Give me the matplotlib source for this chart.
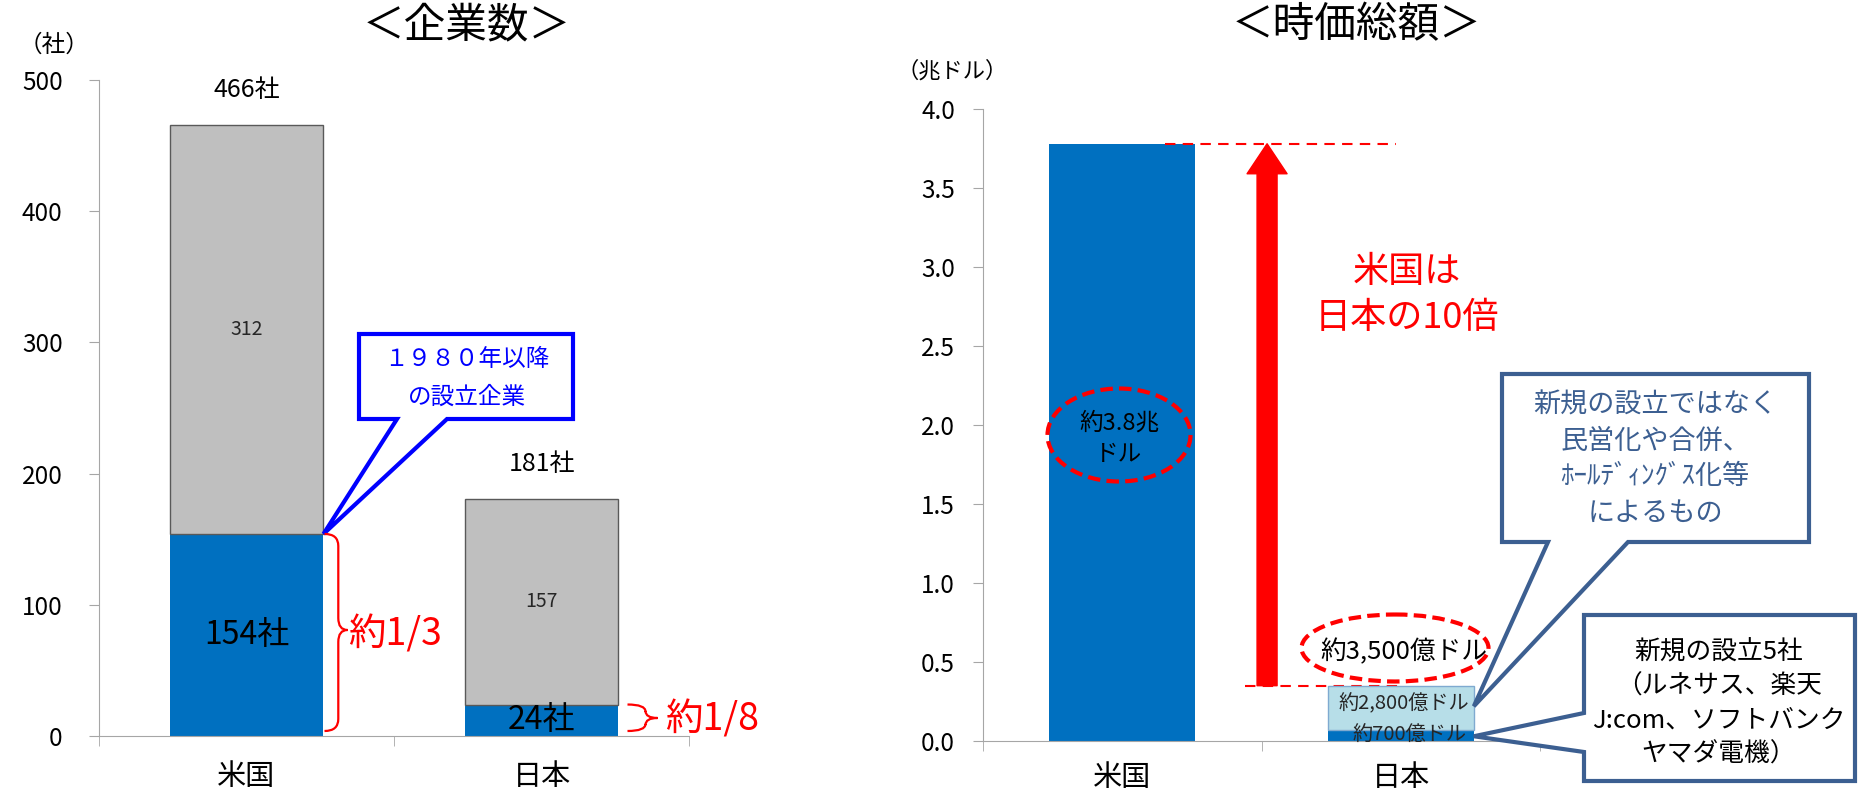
import matplotlib
matplotlib.use('Agg')
import numpy as np
import matplotlib.pyplot as plt
from matplotlib.patches import Polygon, Ellipse, PathPatch, FancyArrowPatch
from matplotlib.path import Path
from matplotlib.transforms import Affine2D

plt.rcParams['font.family'] = ['Noto Sans CJK JP', 'DejaVu Sans']

# データ
countries = ['米国', '日本']
firms_new = [154, 24]        # 1980年以降の設立企業
firms_old = [312, 157]
firms_total = [466, 181]
cap_new = [3.78, 0.07]       # 兆ドル
cap_other = [0.0, 0.28]
cap_total = [3.78, 0.35]
ticks_firms = [0, 100, 200, 300, 400, 500]
ticks_cap = [0.0, 0.5, 1.0, 1.5, 2.0, 2.5, 3.0, 3.5, 4.0]

W, H = 1866, 794
fig = plt.figure(figsize=(W / 100, H / 100), dpi=100)
px = Affine2D().scale(1, -1).translate(0, H)   # ピクセル座標 (上から)

BLUE = '#0070C0'
GRID = '#A6A6A6'
SLATE = '#3C5F91'


def to_px(ax, x, y):
    dx, dy = ax.transData.transform((x, y))
    return dx, H - dy


def style(ax, yticks, fmt, pad_y, pad_x):
    for s in ['top', 'right']:
        ax.spines[s].set_visible(False)
    for s in ['left', 'bottom']:
        ax.spines[s].set_color(GRID)
    ax.set_yticks(yticks)
    ax.set_yticklabels([fmt % v for v in yticks])
    ax.tick_params(axis='y', length=7.2, color=GRID, labelsize=17.5, pad=pad_y)
    ax.set_xticks(np.arange(len(countries)))
    ax.set_xticklabels(countries)
    ax.tick_params(axis='x', length=0, labelsize=21, pad=pad_x)
    ax.set_xticks([-0.5, 0.5, 1.5], minor=True)
    ax.tick_params(axis='x', which='minor', length=7.2, color=GRID)


def lines_text(lines, x, y0, dy, **kw):
    for i, s in enumerate(lines):
        fig.text(x, y0 + i * dy, s, transform=px, ha='center', va='center', **kw)


def callout(pts, ec, lw=3):
    fig.add_artist(Polygon(pts, closed=True, transform=px, fc='white',
                           ec=ec, lw=lw, joinstyle='miter'))


def brace(x0, y0, y1, w, ym, r, color='red', lw=1.6):
    xm = x0 + w * 0.6
    xc = x0 + w
    verts = [(x0, y0), (xm, y0), (xm, y0 + r), (xm, ym - r), (xm, ym), (xc, ym),
             (xm, ym), (xm, ym + r), (xm, y1 - r), (xm, y1), (x0, y1)]
    codes = [Path.MOVETO, Path.CURVE3, Path.CURVE3, Path.LINETO, Path.CURVE3, Path.CURVE3,
             Path.CURVE3, Path.CURVE3, Path.LINETO, Path.CURVE3, Path.CURVE3]
    fig.add_artist(PathPatch(Path(verts, codes), transform=px, fill=False, ec=color, lw=lw))


x = np.arange(len(countries))

# ---- 左: 企業数 ----
ax1 = fig.add_axes([99 / W, 1 - 736 / H, 590 / W, 656 / H])
w1 = 0.522
ax1.bar(x, firms_new, w1, color=BLUE, zorder=2)
ax1.bar(x, firms_old, w1, bottom=firms_new, color='#BFBFBF', edgecolor='#595959', lw=1, zorder=2)
ax1.set_xlim(-0.5, 1.5)
ax1.set_ylim(0, 500)
style(ax1, ticks_firms, '%d', 19, 19)

for i in range(2):
    ax1.annotate('%d社' % firms_total[i], xy=(x[i], firms_total[i]), xytext=(0, 25),
                 textcoords='offset points', ha='center', va='center', fontsize=18)
    ax1.text(x[i], firms_new[i] + firms_old[i] / 2, '%d' % firms_old[i],
             ha='center', va='center', fontsize=14, color='#262626')
    ax1.text(x[i], firms_new[i] / 2, '%d社' % firms_new[i],
             ha='center', va='center', fontsize=23, zorder=3)

fig.text(467, 26, '＜企業数＞', transform=px, ha='center', va='center', fontsize=30)
fig.text(54, 45, '（社）', transform=px, ha='center', va='center', fontsize=17)

# 吹き出し (青)
tip = to_px(ax1, x[0] + w1 / 2, firms_new[0])
callout([(359, 334), (573, 334), (573, 419), (447, 419), tip, (397, 419), (359, 419)], '#0000FF')
lines_text(['１９８０年以降', 'の設立企業'], 467, 360, 37, fontsize=17, color='#0000FF')

# 中括弧
bx, by_top = to_px(ax1, x[0] + w1 / 2, firms_new[0])
_, by_bot = to_px(ax1, x[0] + w1 / 2, 0)
brace(bx + 1, by_top, by_bot - 5, 23, 630, 12)
fig.text(395, 635, '約1/3', transform=px, ha='center', va='center', fontsize=27, color='red')
jx, jy_top = to_px(ax1, x[1] + w1 / 2, firms_new[1])
brace(jx + 9, jy_top, by_bot - 5, 30, 718, 7)
fig.text(712, 720, '約1/8', transform=px, ha='center', va='center', fontsize=27, color='red')

# ---- 右: 時価総額 ----
ax2 = fig.add_axes([983 / W, 1 - 741 / H, 557 / W, 632 / H])
w2 = 0.525
ax2.bar(x, cap_new, w2, color=BLUE, zorder=2)
ax2.bar(x, cap_other, w2, bottom=cap_new, color='#B7DEE8',
        edgecolor=['none', '#7FAAD0'], lw=1, zorder=2)
ax2.set_xlim(-0.5, 1.5)
ax2.set_ylim(0, 4)
style(ax2, ticks_cap, '%.1f', 13, 16)

fig.text(1357, 26, '＜時価総額＞', transform=px, ha='center', va='center', fontsize=30)
fig.text(952, 71, '（兆ドル）', transform=px, ha='center', va='center', fontsize=16)

ax2.plot([0.155, 0.982], [cap_total[0]] * 2, color='red', lw=1.5, ls=(0, (5, 3.5)), zorder=3)
ax2.plot([0.44, 1.0], [cap_total[1]] * 2, color='red', lw=1.5, ls=(0, (5, 3.5)), zorder=1.5)
ax2.add_patch(FancyArrowPatch((0.52, cap_total[1]), (0.52, cap_total[0]),
                              arrowstyle='simple,head_length=1.5,head_width=2.0,tail_width=1.0',
                              mutation_scale=14.4, color='red', shrinkA=0, shrinkB=0, zorder=4))
lines_text(['米国は', '日本の10倍'], 1407, 272, 46, fontsize=26, color='red')

fig.add_artist(Ellipse((1119, 435), 143, 93, transform=px, fill=False, ec='red',
                       lw=3, ls=(0, (3, 1.5))))
lines_text(['約3.8兆', 'ドル'], 1119, 423, 31, fontsize=17)

fig.add_artist(Ellipse((1395, 648), 187, 67, transform=px, fill=False, ec='red',
                       lw=3, ls=(0, (3, 1.5))))
fig.text(1404, 652, '約3,500億ドル', transform=px, ha='center', va='center', fontsize=18.5)

ax2.text(x[1] + 0.01, cap_new[1] + 0.165, '約2,800億ドル', ha='center', va='center',
         fontsize=14.5, color='#262626', zorder=3)
ax2.text(x[1] + 0.03, 0.035, '約700億ドル', ha='center', va='center',
         fontsize=14.5, color='#262626', zorder=3)

# 吹き出し
tip1 = to_px(ax2, x[1] + w2 / 2, 0.22)
callout([(1502, 374), (1809, 374), (1809, 542), (1628, 542), tip1, (1548, 542), (1502, 542)], SLATE)
lines_text(['新規の設立ではなく', '民営化や合併、', 'ﾎｰﾙﾃﾞｨﾝｸﾞｽ化等', 'によるもの'],
           1655, 405, 36, fontsize=19.5, color=SLATE)

tip2 = to_px(ax2, x[1] + w2 / 2, 0.03)
callout([(1584, 615), (1855, 615), (1855, 781), (1584, 781), (1584, 752), tip2, (1584, 713)], SLATE)
lines_text(['新規の設立5社', '（ルネサス、楽天', 'J:com、ソフトバンク', 'ヤマダ電機）'],
           1719, 653, 34, fontsize=18.5)

fig.savefig('out.png', dpi=100)
